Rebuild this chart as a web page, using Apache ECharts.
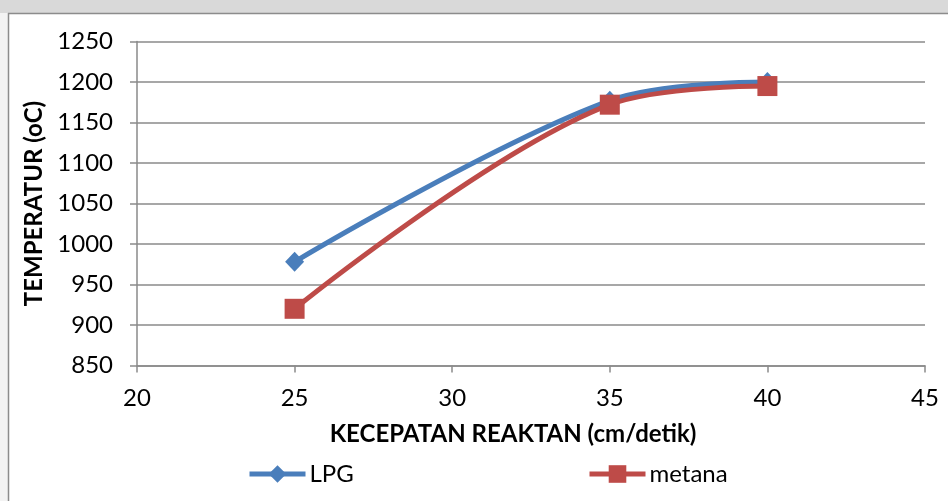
<!DOCTYPE html>
<html>
<head>
<meta charset="utf-8">
<script src="https://cdn.jsdelivr.net/npm/echarts@6/dist/echarts.min.js"></script>
<style>
  html, body { margin: 0; padding: 0; background: #ffffff; }
  #chart { width: 948px; height: 501px; }
</style>
</head>
<body>
<div id="chart"></div>
<script>
// Reactant velocity (cm/detik) against flame temperature (oC)
const velocity = [25, 35, 40];
const lpgTemp = [978, 1177, 1200];
const metanaTemp = [920, 1172, 1195];
const seriesNames = ['LPG', 'metana'];
const xAxisTitle = 'KECEPATAN REAKTAN (cm/detik)';
const yAxisTitle = 'TEMPERATUR (oC)';

const FONT = 'Lato, "Open Sans", sans-serif';
const FS = 24;
const GRID_GRAY = '#8a8a8a';
const BLUE = '#4a7ebb';
const RED = '#be4b48';

const pairs = (xs, ys) => xs.map((x, i) => [x, ys[i]]);

const legendBase = {
  top: 462, padding: 0, itemWidth: 56, itemHeight: 22, itemGap: 4,
  lineStyle: { width: 5 },
  textStyle: { fontFamily: FONT, fontSize: FS, color: '#000', padding: [0, 0, 0, -1] }
};

const chart = echarts.init(document.getElementById('chart'), null, { renderer: 'canvas' });

chart.setOption({
  animation: false,
  backgroundColor: '#ffffff',
  textStyle: { fontFamily: FONT },
  graphic: [
    { type: 'rect', z: -10, shape: { x: 0, y: 0, width: 948, height: 13 }, style: { fill: '#d9d9d9' } },
    { type: 'rect', z: -10, shape: { x: 0, y: 13, width: 8, height: 488 }, style: { fill: '#f3f3f3' } },
    { type: 'line', z: -5, shape: { x1: 8, y1: 13.5, x2: 948, y2: 13.5 }, style: { stroke: '#8c8c8c', lineWidth: 1.5 } },
    { type: 'line', z: -5, shape: { x1: 8.5, y1: 13, x2: 8.5, y2: 501 }, style: { stroke: '#8c8c8c', lineWidth: 1.5 } }
  ],
  grid: { left: 137, right: 23, top: 41.5, bottom: 135.5, containLabel: false },
  legend: [
    Object.assign({ data: [seriesNames[0]], left: 247 }, legendBase),
    Object.assign({ data: [seriesNames[1]], left: 587 }, legendBase)
  ],
  xAxis: {
    type: 'value', min: 20, max: 45, interval: 5,
    name: xAxisTitle, nameLocation: 'middle', nameGap: 57,
    nameTextStyle: { fontFamily: FONT, fontSize: FS, fontWeight: 'bold', color: '#000', padding: [0, 36, 0, 0] },
    axisLine: { show: true, onZero: false, lineStyle: { color: GRID_GRAY, width: 1.5 } },
    axisTick: { show: true, inside: false, length: 7, lineStyle: { color: GRID_GRAY, width: 1.5 } },
    axisLabel: { margin: 21, fontFamily: FONT, fontSize: FS, color: '#000', formatter: v => String(v) },
    splitLine: { show: false }
  },
  yAxis: {
    type: 'value', min: 850, max: 1250, interval: 50,
    name: yAxisTitle, nameLocation: 'middle', nameGap: 88, nameRotate: 90,
    nameTextStyle: { fontFamily: FONT, fontSize: FS, fontWeight: 'bold', color: '#000' },
    axisLine: { show: true, onZero: false, lineStyle: { color: GRID_GRAY, width: 1.5 } },
    axisTick: { show: true, inside: false, length: 7, lineStyle: { color: GRID_GRAY, width: 1.5 } },
    axisLabel: { margin: 24, fontFamily: FONT, fontSize: FS, color: '#000', formatter: v => String(v) },
    splitLine: { show: true, lineStyle: { color: GRID_GRAY, width: 1.5 } }
  },
  series: [
    {
      name: seriesNames[0], type: 'line', data: pairs(velocity, lpgTemp),
      smooth: 0.35, symbol: 'diamond', symbolSize: [19, 20],
      lineStyle: { color: BLUE, width: 5 },
      itemStyle: { color: BLUE, borderWidth: 0 },
      z: 2
    },
    {
      name: seriesNames[1], type: 'line', data: pairs(velocity, metanaTemp),
      smooth: 0.35, symbol: 'rect', symbolSize: 20,
      lineStyle: { color: RED, width: 5 },
      itemStyle: { color: RED, borderWidth: 0 },
      z: 3
    }
  ]
});
</script>
</body>
</html>
